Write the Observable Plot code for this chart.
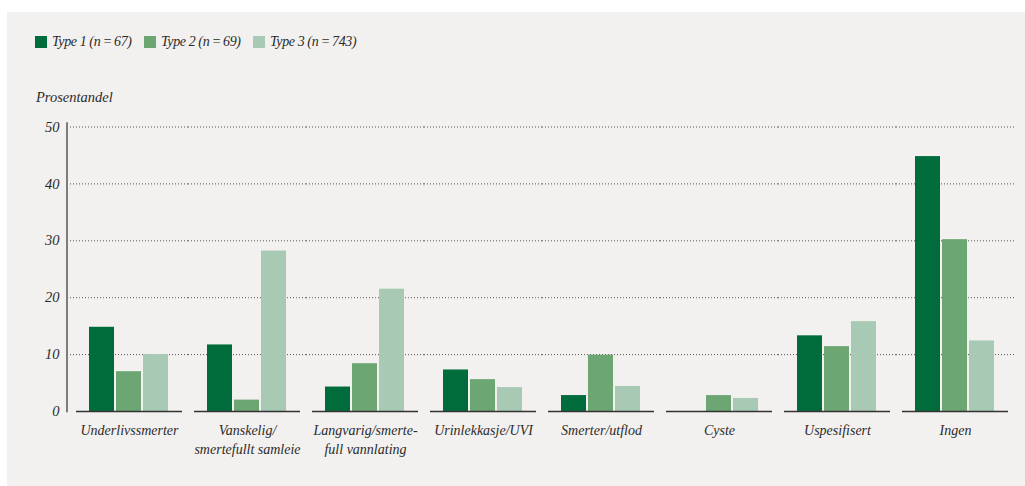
<!DOCTYPE html>
<html>
<head>
<meta charset="utf-8">
<script src="https://cdn.jsdelivr.net/npm/d3@7"></script>
<script src="https://cdn.jsdelivr.net/npm/@observablehq/plot@0.6"></script>
<style>
  html, body { margin: 0; padding: 0; background: #ffffff; }
  body { position: relative; width: 1025px; height: 486px; overflow: hidden;
         font-family: "Liberation Serif", serif; font-style: italic; color: #2b2b2b; }
  #panel { position: absolute; left: 7px; top: 12px; width: 1018px; height: 474px; background: #f2f1ef; }
  #legend { position: absolute; left: 35px; top: 34px; display: flex; font-size: 14px; white-space: nowrap; letter-spacing: -0.4px; }
  .item { display: flex; align-items: center; width: 109px; }
  .swatch { width: 12px; height: 12px; margin-right: 5px; flex: none; }
  #ylabel { position: absolute; left: 36px; top: 89px; font-size: 14.5px; }
  #chart { position: absolute; left: 0; top: 110px; }
</style>
</head>
<body>
<div id="panel"></div>
<div id="legend"></div>
<div id="ylabel">Prosentandel</div>
<div id="chart"></div>
<script>
// Categories (x groups) and their display labels
const categories = [
  "Underlivssmerter",
  "Vanskelig/smertefullt samleie",
  "Langvarig/smertefull vannlating",
  "Urinlekkasje/UVI",
  "Smerter/utflod",
  "Cyste",
  "Uspesifisert",
  "Ingen"
];
const categoryLabels = [
  "Underlivssmerter",
  "Vanskelig/\nsmertefullt samleie",
  "Langvarig/smerte-\nfull vannlating",
  "Urinlekkasje/UVI",
  "Smerter/utflod",
  "Cyste",
  "Uspesifisert",
  "Ingen"
];

// Series
const types = ["Type 1", "Type 2", "Type 3"];
const typeLabels = ["Type 1 (n\u202F=\u202F67)", "Type 2 (n\u202F=\u202F69)", "Type 3 (n\u202F=\u202F743)"];
const typeColors = ["#006c3b", "#6ca673", "#a8cab5"];

// Percentages per category, one array per type
const type1 = [14.8, 11.7, 4.3, 7.3, 2.8, 0, 13.3, 44.8];
const type2 = [7.0, 2.0, 8.4, 5.6, 9.9, 2.8, 11.4, 30.2];
const type3 = [10.0, 28.2, 21.5, 4.2, 4.4, 2.3, 15.8, 12.4];

const yTicks = [0, 10, 20, 30, 40, 50];
const gridTicks = [10, 20, 30, 40, 50];

const series = [type1, type2, type3];
const data = [];
categories.forEach((c, i) => {
  types.forEach((t, j) => data.push({category: c, type: t, value: series[j][i]}));
});
const labelOf = new Map(categories.map((c, i) => [c, categoryLabels[i]]));

// Legend
const legend = document.getElementById("legend");
types.forEach((t, j) => {
  const item = document.createElement("div");
  item.className = "item";
  const sw = document.createElement("span");
  sw.className = "swatch";
  sw.style.background = typeColors[j];
  const lab = document.createElement("span");
  lab.textContent = typeLabels[j];
  item.append(sw, lab);
  legend.append(item);
});

const chart = Plot.plot({
  width: 1025,
  height: 376,
  marginLeft: 73,
  marginRight: 13,
  marginTop: 16.5,
  marginBottom: 75,
  style: {background: "transparent", fontFamily: "Liberation Serif, serif", fontStyle: "italic", fontSize: "14px", color: "#2b2b2b"},
  fx: {domain: categories, paddingInner: 0.1, paddingOuter: 0, label: null},
  x: {domain: types, paddingInner: 0.06, paddingOuter: 0.485, axis: null},
  y: {domain: [0, 50], label: null},
  color: {domain: types, range: typeColors},
  marks: [
    // dotted gridlines, stretched into the gaps between groups so they read as continuous
    Plot.ruleY(gridTicks, {stroke: "#555", strokeWidth: 1, strokeDasharray: "1,2", insetLeft: -6, insetRight: -6}),
    Plot.frame({anchor: "left", facet: "super", dx: -9.5, insetTop: -4, stroke: "#555", strokeWidth: 1.5}),
    Plot.barY(data, {fx: "category", x: "type", y: "value", fill: "type"}),
    Plot.ruleY([0], {stroke: "#333", strokeWidth: 1.5}),
    Plot.axisY(yTicks, {tickSize: 0, tickPadding: 17, fontSize: 14.5, label: null}),
    Plot.axisFx({anchor: "bottom", tickSize: 0, tickPadding: 11, tickFormat: (d) => labelOf.get(d), lineHeight: 1.3, fontSize: 14, label: null})
  ]
});
document.getElementById("chart").append(chart);
</script>
</body>
</html>
